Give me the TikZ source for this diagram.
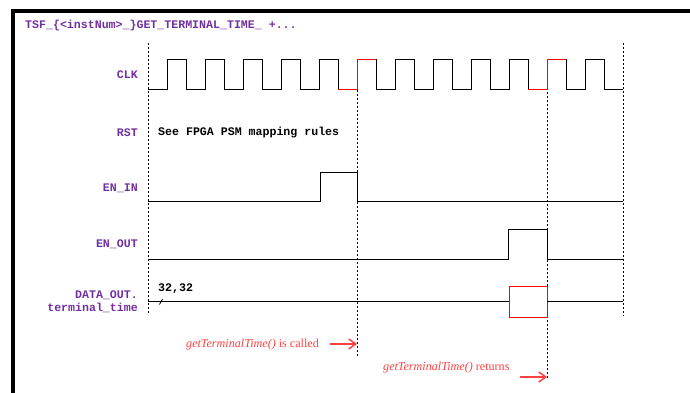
\documentclass[tikz,border=0pt]{standalone}
\usepackage{fontspec}
\setmainfont{Liberation Serif}
\setmonofont{Liberation Mono}
\usepackage{tikz}
\usetikzlibrary{positioning,arrows.meta,calc}
\definecolor{sigpurple}{RGB}{112,48,160}
\definecolor{noteRed}{RGB}{255,64,64}

\begin{document}
\begin{tikzpicture}[x=1pt,y=-1pt,
      sig/.style={anchor=east,inner sep=0pt,align=right,text=sigpurple,font=\ttfamily\bfseries\fontsize{11.6}{13}\selectfont},
      val/.style={anchor=west,inner sep=0pt,font=\ttfamily\bfseries\fontsize{11.6}{13}\selectfont},
      wave/.style={line width=1pt},
      guide/.style={line width=0.9pt,dash pattern=on 2pt off 2pt},
      note/.style={anchor=west,inner sep=0pt,text=noteRed,font=\fontsize{12.1}{13}\selectfont},
      arr/.style={noteRed,line width=1.5pt,-{Straight Barb[length=7pt,width=10pt]}}
    ]

    \useasboundingbox (0,0) rectangle (690,393);
    \draw[line width=3.5pt] (690,11) -- (13,11) -- (13,393);

    \node[sig,anchor=west] (title) at (25,26) {TSF\_\{<instNum>\_\}GET\_TERMINAL\_TIME\_ +...};

    \node[sig] (clk) at (138,75) {CLK};
    \node[sig] (rst) at (138,133) {RST};
    \node[sig] (enin) at (138,188) {EN\_IN};
    \node[sig] (enout) at (138,244) {EN\_OUT};
    \node[sig] (data) at (138,301.5) {DATA\_OUT.\\terminal\_time};

    \draw[guide] (148,43) -- (148,315);
    \draw[guide] (357,90) -- (357,356);
    \draw[guide] (547,80) -- (547,378);
    \draw[guide] (623,43) -- (623,316);

    \draw[wave] (148,90) foreach \k in {0,...,11} { -- ++(19,0) -- ++(0,-30) -- ++(19,0) -- ++(0,30) } -- ++(19,0);
    \foreach \x in {338,528}
      \draw[wave,red] (\x,90) -- ++(19,0) -- ++(0,-30) -- ++(19,0);

    \node[val] (rstnote) at (158,133) {See FPGA PSM mapping rules};

    \draw[wave] (148,201) -- (320,201) -- (320,172) -- (357,172) -- (357,201) -- (623,201);
    \draw[wave] (148,259) -- (508,259) -- (508,229) -- (547,229) -- (547,259) -- (623,259);

    \node[val] (width) at (158,289) {32,32};
    \draw[wave] (148,301) -- (509,301);
    \draw[wave,red] (509,286) rectangle (547,317);
    \draw[wave] (547,301) -- (623,301);
    \draw[line width=0.8pt] (159.5,304.5) -- (162.5,299);

    \node[note] (called) at (186,345) {\textit{getTerminalTime()} is called};
    \node[note] (returns) at (383,368) {\textit{getTerminalTime()} returns};
    \coordinate (callAt) at (357,344);
    \coordinate (retAt) at (547,377);
    \draw[arr] ([xshift=-27pt]callAt) -- (callAt);
    \draw[arr] ([xshift=-27pt]retAt) -- (retAt);

  \end{tikzpicture}
\end{document}
